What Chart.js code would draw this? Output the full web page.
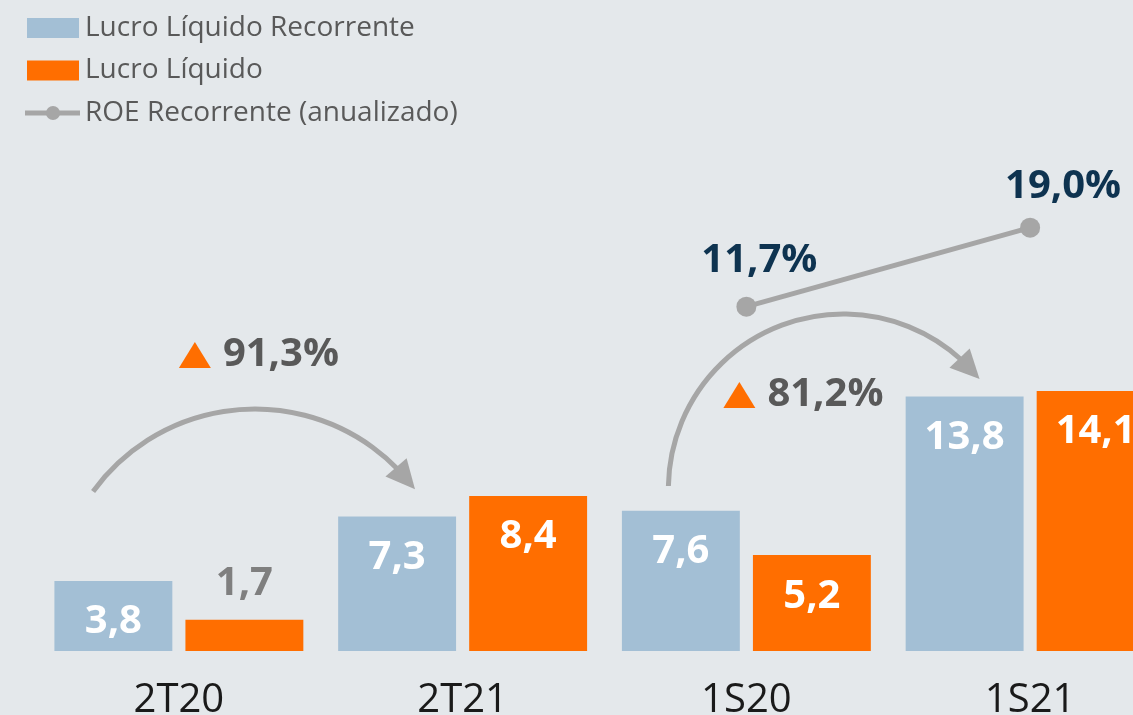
<!DOCTYPE html>
<html lang="pt-BR">
<head>
<meta charset="utf-8">
<title>Lucro Líquido e ROE Recorrente</title>
<script src="https://cdn.jsdelivr.net/npm/chart.js@4.4.1/dist/chart.umd.min.js"></script>
<style>
  html, body { margin: 0; padding: 0; background: #e4e8eb; overflow: hidden; }
  #wrap { width: 1175px; height: 715px; }
</style>
</head>
<body>
<div id="wrap"><canvas id="grafico" width="1175" height="715"></canvas></div>
<script>
// dados (R$ bilhões e %)
const categorias = ['2T20', '2T21', '1S20', '1S21'];
const lucroRecorrente = [3.8, 7.3, 7.6, 13.8];
const lucroLiquido = [1.7, 8.4, 5.2, 14.1];
const roeRecorrente = [null, null, 11.7, 19.0];
const variacoes = ['91,3%', '81,2%'];

const FONTE = "'Open Sans', sans-serif";
const AZUL = '#a3bfd5';
const LARANJA = '#ff6e00';
const CINZA = '#a6a6a6';

function formatar(v) {
    return v.toFixed(1).replace('.', ',');
}

// legenda vertical no canto superior esquerdo
const legendaPlugin = {
    id: 'legenda',
    afterDraw(chart) {
        const ctx = chart.ctx;
        ctx.save();
        ctx.font = '28px ' + FONTE;
        ctx.textBaseline = 'middle';
        chart.data.datasets.forEach((ds, i) => {
            const y = 28 + i * 42.5;
            if (ds.type === 'line') {
                ctx.strokeStyle = ds.borderColor;
                ctx.lineWidth = 5;
                ctx.beginPath();
                ctx.moveTo(25, y);
                ctx.lineTo(80, y);
                ctx.stroke();
                ctx.fillStyle = ds.borderColor;
                ctx.beginPath();
                ctx.arc(53, y, 7, 0, Math.PI * 2);
                ctx.fill();
            } else {
                ctx.fillStyle = ds.backgroundColor;
                ctx.fillRect(27, y - 10, 52, 20);
            }
            ctx.fillStyle = '#595959';
            ctx.fillText(ds.label, 85, y);
        });
        ctx.restore();
    }
};

// setas curvas com a variação
const setasPlugin = {
    id: 'setas',
    afterDatasetsDraw(chart) {
        const ctx = chart.ctx;
        const x = chart.scales.x;
        const setas = [
            { cat: 0, dx: 76, cy: 609, r: 200, ini: -144, fim: -36.8, tri: 0, ty: 355, texto: variacoes[0] },
            { cat: 2, dx: 97, cy: 489, r: 175, ini: 181, fim: 321.1, tri: -23, ty: 395, texto: variacoes[1] }
        ];
        ctx.save();
        setas.forEach(s => {
            const cx = x.getPixelForValue(s.cat) + s.dx;
            const rad = a => a * Math.PI / 180;
            const compr = 29;
            const aBase = rad(s.fim) - compr / s.r;
            ctx.strokeStyle = CINZA;
            ctx.lineWidth = 5;
            ctx.beginPath();
            ctx.arc(cx, s.cy, s.r, rad(s.ini), aBase + 0.02);
            ctx.stroke();

            // ponta da seta
            const px = cx + s.r * Math.cos(rad(s.fim));
            const py = s.cy + s.r * Math.sin(rad(s.fim));
            const bx = cx + s.r * Math.cos(aBase);
            const by = s.cy + s.r * Math.sin(aBase);
            const d = Math.hypot(px - bx, py - by);
            const nx = -(py - by) / d, ny = (px - bx) / d;
            ctx.fillStyle = CINZA;
            ctx.beginPath();
            ctx.moveTo(px, py);
            ctx.lineTo(bx + nx * 14, by + ny * 14);
            ctx.lineTo(bx - nx * 14, by - ny * 14);
            ctx.closePath();
            ctx.fill();

            // triângulo laranja + texto
            const tx = x.getPixelForValue(s.cat) + s.tri;
            ctx.fillStyle = LARANJA;
            ctx.beginPath();
            ctx.moveTo(tx, s.ty + 13);
            ctx.lineTo(tx + 32, s.ty + 13);
            ctx.lineTo(tx + 16, s.ty - 13);
            ctx.closePath();
            ctx.fill();
            ctx.fillStyle = '#595959';
            ctx.font = 'bold 40px ' + FONTE;
            ctx.textBaseline = 'middle';
            ctx.textAlign = 'left';
            ctx.fillText(s.texto, tx + 44, s.ty);
        });
        ctx.restore();
    }
};

// rótulos dos valores
const deslocRoe = [null, null, [13, -46], [33, -41]];
const rotulosPlugin = {
    id: 'rotulos',
    afterDatasetsDraw(chart) {
        const ctx = chart.ctx;
        ctx.save();
        ctx.font = 'bold 40px ' + FONTE;
        ctx.textAlign = 'center';
        ctx.textBaseline = 'middle';
        chart.data.datasets.forEach((ds, i) => {
            const meta = chart.getDatasetMeta(i);
            meta.data.forEach((el, j) => {
                const v = ds.data[j];
                if (v == null) return;
                const texto = formatar(v);
                if (ds.type === 'bar') {
                    const altura = el.base - el.y;
                    if (altura < 60) {
                        ctx.fillStyle = '#7f7f7f';
                        ctx.fillText(texto, el.x, el.y - 36);
                    } else {
                        ctx.fillStyle = '#ffffff';
                        ctx.fillText(texto, el.x, el.y + 41);
                    }
                } else {
                    ctx.fillStyle = '#0e3350';
                    ctx.fillText(texto + '%', el.x + deslocRoe[j][0], el.y + deslocRoe[j][1]);
                }
            });
        });
        ctx.restore();
    }
};

new Chart(document.getElementById('grafico'), {
    type: 'bar',
    data: {
        labels: categorias,
        datasets: [
            {
                type: 'bar',
                label: 'Lucro Líquido Recorrente',
                data: lucroRecorrente,
                backgroundColor: AZUL,
                yAxisID: 'y',
                order: 1,
                categoryPercentage: 0.9235,
                barPercentage: 0.9
            },
            {
                type: 'bar',
                label: 'Lucro Líquido',
                data: lucroLiquido,
                backgroundColor: LARANJA,
                yAxisID: 'y',
                order: 1,
                categoryPercentage: 0.9235,
                barPercentage: 0.9
            },
            {
                type: 'line',
                label: 'ROE Recorrente (anualizado)',
                data: roeRecorrente,
                borderColor: CINZA,
                backgroundColor: CINZA,
                borderWidth: 5,
                pointRadius: 10,
                pointHoverRadius: 10,
                pointBorderWidth: 0,
                yAxisID: 'y1',
                order: 0
            }
        ]
    },
    options: {
        responsive: false,
        animation: false,
        layout: { autoPadding: false, padding: { top: 150, left: 37, right: 3, bottom: 0 } },
        plugins: {
            legend: { display: false },
            tooltip: { enabled: false }
        },
        scales: {
            x: {
                grid: { display: false, drawTicks: false },
                border: { display: false },
                ticks: {
                    color: '#1a1a1a',
                    font: { family: FONTE, size: 40 },
                    padding: 26,
                    maxRotation: 0
                },
                afterFit(scale) { scale.height = 64; }
            },
            y: { display: false, min: 0, max: 27.17 },
            y1: { display: false, min: -20.12, max: 26.18 }
        }
    },
    plugins: [setasPlugin, rotulosPlugin, legendaPlugin]
});
</script>
</body>
</html>
